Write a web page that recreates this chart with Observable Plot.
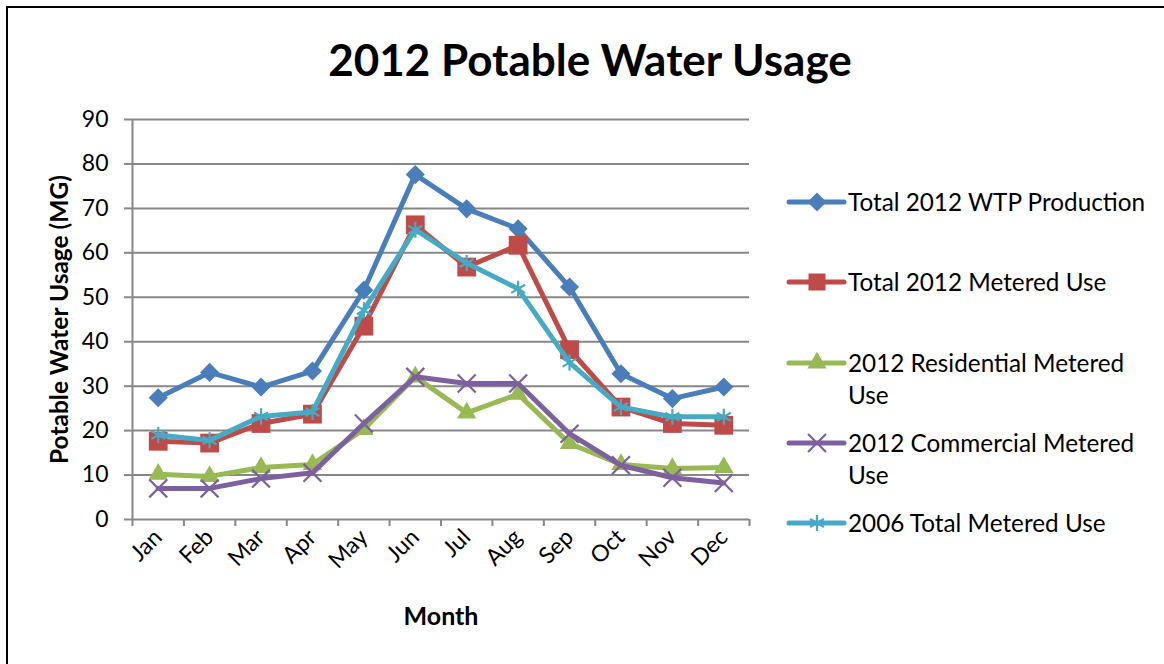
<!DOCTYPE html>
<html><head><meta charset="utf-8">
<script src="https://cdn.jsdelivr.net/npm/d3@7"></script>
<script src="https://cdn.jsdelivr.net/npm/@observablehq/plot@0.6"></script>
<style>
body{margin:0;background:#fff;}
#wrap{position:relative;width:1164px;height:664px;overflow:hidden;font-family:Lato,"Open Sans",sans-serif;background:#fff;}
#border{position:absolute;left:6px;top:6px;width:1300px;height:800px;border-left:2px solid #000;border-top:2px solid #000;box-sizing:border-box;}
#title{position:absolute;left:0;width:1180px;top:33px;text-align:center;font-weight:bold;font-size:44px;line-height:52px;color:#000;}
#chart{position:absolute;left:0;top:0;}
#legend{position:absolute;left:0;top:0;}
.item{position:absolute;left:786px;display:flex;align-items:flex-start;}
.item svg{flex:none;}
.item span{font-size:24.3px;line-height:32px;color:#000;white-space:nowrap;margin-left:0px;}
</style>
</head><body>
<div id="wrap">
  <div id="border"></div>
  <div id="title">2012 Potable Water Usage</div>
  <div id="chart"></div>
  <div id="legend"></div>
</div>
<script>
const months = ["Jan","Feb","Mar","Apr","May","Jun","Jul","Aug","Sep","Oct","Nov","Dec"];
const yTicks = [0,10,20,30,40,50,60,70,80,90];

const wtpProduction   = [27.4, 33.1, 29.8, 33.4, 51.6, 77.6, 69.9, 65.4, 52.3, 32.8, 27.2, 29.8];
const totalMetered    = [17.6, 17.2, 21.6, 23.7, 43.5, 66.3, 56.8, 61.7, 38.2, 25.3, 21.6, 21.2];
const residential     = [10.2,  9.7, 11.7, 12.4, 20.3, 32.1, 24.0, 28.2, 17.1, 12.4, 11.5, 11.7];
const commercial      = [ 7.0,  7.0,  9.2, 10.5, 21.6, 32.1, 30.6, 30.6, 19.3, 12.2,  9.4,  8.2];
const total2006       = [19.0, 17.8, 23.2, 24.2, 47.1, 65.2, 57.7, 51.9, 35.3, 25.3, 23.1, 23.1];

const seriesNames  = ["Total 2012 WTP Production","Total 2012 Metered Use","2012 Residential Metered Use","2012 Commercial Metered Use","2006 Total Metered Use"];
const legendLines  = [["Total 2012 WTP Production"],["Total 2012 Metered Use"],["2012 Residential Metered","Use"],["2012 Commercial Metered","Use"],["2006 Total Metered Use"]];
const seriesValues = [wtpProduction, totalMetered, residential, commercial, total2006];
const seriesColors = ["#4A7EBB","#BE4B48","#98B954","#7D60A0","#46AAC5"];
const seriesSymbols = ["diamond2","square","triangle","times","asterisk"];
const symbolR = [8.6, 10.6, 7.2, 8.2, 7.6];
const symbolFilled = [true,true,true,false,false];

const series = seriesNames.map((name,k)=>({
  name, color: seriesColors[k], symbol: seriesSymbols[k], r: symbolR[k], filled: symbolFilled[k],
  data: seriesValues[k].map((v,i)=>({m: i+0.5, month: months[i], value: v, series: name}))
}));

const grid = "#878787";
const marks = [
  Plot.ruleY(yTicks.filter(d=>d>0), {stroke: grid, strokeWidth: 2}),
  Plot.axisY({ticks: yTicks, tickSize: 8, tickPadding: 16, stroke: grid, strokeWidth: 2, fill: "#000", fontSize: 23, label: null}),
  Plot.axisX({ticks: d3.range(0,13), tickSize: 7, tickFormat: () => "", stroke: grid, strokeWidth: 2, label: null}),
  Plot.axisX({ticks: months.map((d,i)=>i+0.5), tickFormat: v => months[Math.floor(v)], tickSize: 0, tickPadding: 14, tickRotate: -45, fill: "#000", fontSize: 23, label: null}),
  Plot.ruleY([0], {stroke: grid, strokeWidth: 2}),
  Plot.ruleX([0], {stroke: grid, strokeWidth: 2}),
  Plot.text(["Potable Water Usage (MG)"], {frameAnchor: "left", textAnchor: "middle", dx: -72, rotate: -90, fontSize: 24.5, fontWeight: "bold", fill: "#000"}),
  Plot.text(["Month"], {frameAnchor: "bottom", dy: 105, fontSize: 25, fontWeight: "bold", fill: "#000"})
];
for (const s of series) {
  marks.push(Plot.line(s.data, {x: "m", y: "value", stroke: s.color, strokeWidth: 5, strokeLinejoin: "round", strokeLinecap: "round"}));
  marks.push(Plot.dot(s.data, {x: "m", y: "value", symbol: () => s.symbol, r: s.r,
    fill: s.filled ? s.color : "none", stroke: s.filled ? "none" : s.color, strokeWidth: 2.2}));
}

const chart = Plot.plot({
  width: 1164, height: 664,
  marginLeft: 132, marginRight: 415, marginTop: 119, marginBottom: 145,
  style: {fontFamily: 'Lato, "Open Sans", sans-serif', background: "transparent", overflow: "visible"},
  x: {domain: [0, 12], axis: null},
  y: {domain: [0, 90], axis: null},
  marks
});
document.getElementById("chart").appendChild(chart);

// legend
const legendTops = [202, 282, 363, 443, 523];
const legend = d3.select("#legend");
series.forEach((s,k)=>{
  const item = legend.append("div").attr("class","item").style("top", (legendTops[k]-16)+"px");
  const svg = item.append("svg").attr("width", 62).attr("height", 32);
  svg.append("line").attr("x1",3).attr("x2",58).attr("y1",16).attr("y2",16)
     .attr("stroke", s.color).attr("stroke-width",5).attr("stroke-linecap","round");
  const symMap = {diamond2: d3.symbolDiamond2, square: d3.symbolSquare, triangle: d3.symbolTriangle, times: d3.symbolTimes, asterisk: d3.symbolAsterisk};
  const size = Math.PI * (k===1 ? 9.6 : s.r) ** 2;
  svg.append("path").attr("d", d3.symbol(symMap[s.symbol], size)()).attr("transform","translate(31,16)")
     .attr("fill", s.filled ? s.color : "none").attr("stroke", s.filled ? "none" : s.color).attr("stroke-width", 2.2);
  item.append("span").html(legendLines[k].join("<br>"));
});
</script>
</body></html>
